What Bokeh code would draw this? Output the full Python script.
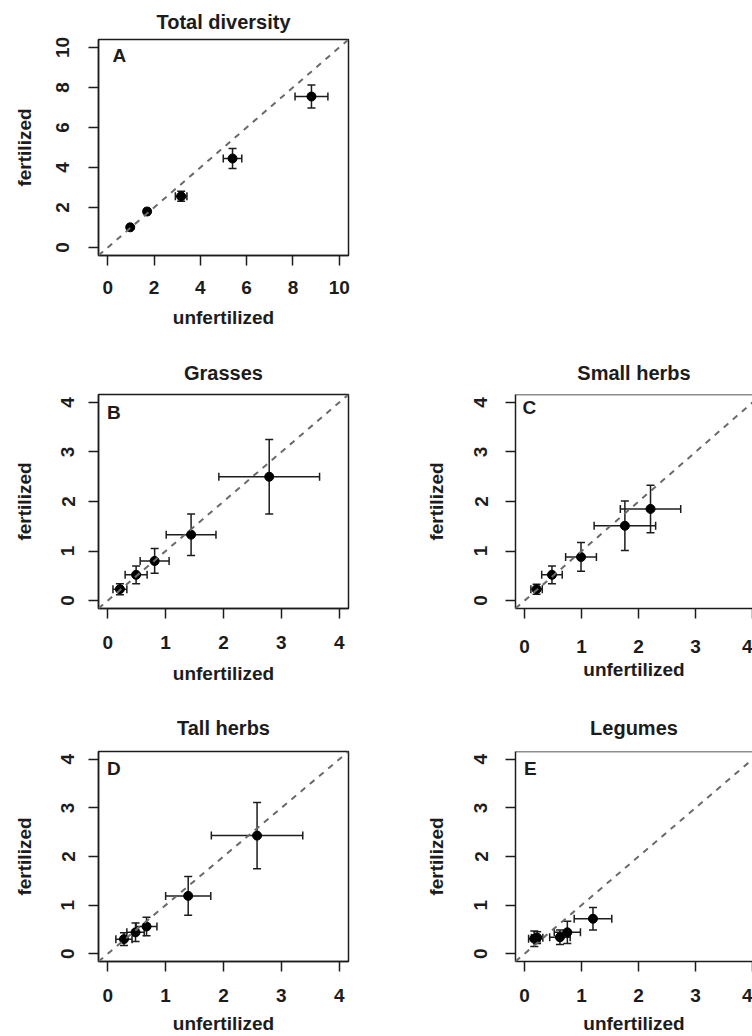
from bokeh.plotting import figure
from bokeh.models import Whisker, TeeHead, ColumnDataSource, Slope, Span, Label, FixedTicker
from bokeh.layouts import column, row
from bokeh.embed import file_html
from bokeh.resources import INLINE

# ---------------- data ----------------
titles = ["Total diversity", "Grasses", "Small herbs", "Tall herbs", "Legumes"]
letters = ["A", "B", "C", "D", "E"]
x_label = "unfertilized"
y_label = "fertilized"

ticks_total = [0, 2, 4, 6, 8, 10]
ticks_group = [0, 1, 2, 3, 4]

A_x = [0.97, 1.70, 3.17, 5.39, 8.80]
A_y = [1.01, 1.80, 2.56, 4.45, 7.55]
A_xe = [0.08, 0.10, 0.25, 0.40, 0.71]
A_ye = [0.08, 0.10, 0.25, 0.50, 0.58]

B_x = [0.21, 0.49, 0.81, 1.44, 2.79]
B_y = [0.23, 0.52, 0.80, 1.33, 2.50]
B_xe = [0.12, 0.19, 0.25, 0.43, 0.87]
B_ye = [0.11, 0.18, 0.25, 0.42, 0.75]

C_x = [0.21, 0.48, 0.99, 1.76, 2.21]
C_y = [0.23, 0.52, 0.88, 1.51, 1.85]
C_xe = [0.10, 0.18, 0.27, 0.54, 0.53]
C_ye = [0.10, 0.18, 0.29, 0.50, 0.48]

D_x = [0.28, 0.48, 0.67, 1.39, 2.58]
D_y = [0.30, 0.44, 0.56, 1.19, 2.43]
D_xe = [0.14, 0.15, 0.18, 0.39, 0.79]
D_ye = [0.13, 0.19, 0.19, 0.40, 0.68]

E_x = [0.17, 0.22, 0.62, 0.75, 1.20]
E_y = [0.31, 0.33, 0.34, 0.44, 0.72]
E_xe = [0.10, 0.10, 0.18, 0.23, 0.33]
E_ye = [0.16, 0.12, 0.15, 0.23, 0.23]

# ---------------- styling ----------------
FONT = "Liberation Sans"
INK = "#1c1c1c"
FS = "19px"
FS_TITLE = "20px"


def panel(title, letter, xs, ys, xe, ye, xr, yr, ticks, w, h, bl, br, bt, bb,
          title_standoff, lx_px, ly_px, full_box,
          xt_standoff, xl_standoff, yt_standoff, yl_standoff):
    p = figure(width=w, height=h, x_range=xr, y_range=yr,
               output_backend="svg", toolbar_location=None,
               min_border_left=bl, min_border_right=br,
               min_border_top=bt, min_border_bottom=bb,
               title=title, background_fill_color="white",
               border_fill_color="white")
    p.title.align = "center"
    p.title.text_font = FONT
    p.title.text_font_size = FS_TITLE
    p.title.text_font_style = "bold"
    p.title.text_color = INK
    p.title.standoff = title_standoff

    p.xgrid.visible = False
    p.ygrid.visible = False

    for ax in (p.xaxis[0], p.yaxis[0]):
        ax.ticker = FixedTicker(ticks=ticks, minor_ticks=[])
        ax.major_tick_in = 0
        ax.major_tick_out = 10
        ax.minor_tick_in = 0
        ax.minor_tick_out = 0
        ax.major_tick_line_color = INK
        ax.major_tick_line_width = 1.5
        ax.axis_line_color = INK
        ax.axis_line_width = 1.5
        ax.major_label_text_font = FONT
        ax.major_label_text_font_size = FS
        ax.major_label_text_font_style = "bold"
        ax.major_label_text_color = INK
        ax.axis_label_text_font = FONT
        ax.axis_label_text_font_size = FS
        ax.axis_label_text_font_style = "bold"
        ax.axis_label_text_color = INK

    p.xaxis[0].axis_label = x_label
    p.xaxis[0].major_label_standoff = xt_standoff
    p.xaxis[0].axis_label_standoff = xl_standoff
    p.yaxis[0].axis_label = y_label
    p.yaxis[0].major_label_orientation = "vertical"
    p.yaxis[0].major_label_standoff = yt_standoff
    p.yaxis[0].axis_label_standoff = yl_standoff

    if full_box:
        p.outline_line_color = INK
        p.outline_line_width = 1.5
        p.outline_line_alpha = 1.0
    else:
        p.outline_line_color = None
        p.add_layout(Span(location=yr[1], dimension="width",
                          line_color=INK, line_width=1.5))

    p.add_layout(Slope(gradient=1, y_intercept=0, line_color="#6a6a6a",
                       line_width=2, line_dash="6 6"))

    src = ColumnDataSource(dict(
        x=xs, y=ys,
        xlo=[a - e for a, e in zip(xs, xe)], xhi=[a + e for a, e in zip(xs, xe)],
        ylo=[a - e for a, e in zip(ys, ye)], yhi=[a + e for a, e in zip(ys, ye)],
    ))
    p.scatter("x", "y", source=src, size=9, fill_color="black",
              line_color="black")
    p.add_layout(Whisker(base="y", lower="xlo", upper="xhi", dimension="width",
                         source=src, line_color=INK, line_width=1.5,
                         upper_head=TeeHead(size=8, line_color=INK, line_width=1.5),
                         lower_head=TeeHead(size=8, line_color=INK, line_width=1.5)))
    p.add_layout(Whisker(base="x", lower="ylo", upper="yhi", dimension="height",
                         source=src, line_color=INK, line_width=1.5,
                         upper_head=TeeHead(size=8, line_color=INK, line_width=1.5),
                         lower_head=TeeHead(size=8, line_color=INK, line_width=1.5)))

    # panel letter placed a few pixels inside the top-left corner of the box
    fw = w - bl - br
    fh = h - bt - bb
    lx = xr[0] + lx_px * (xr[1] - xr[0]) / fw
    ly = yr[1] - ly_px * (yr[1] - yr[0]) / fh
    p.add_layout(Label(x=lx, y=ly, text=letter, text_font=FONT,
                       text_font_size=FS, text_font_style="bold",
                       text_color=INK, text_align="left",
                       text_baseline="alphabetic"))
    return p


pA = panel(titles[0], letters[0], A_x, A_y, A_xe, A_ye, (-0.4, 10.4), (-0.4, 10.4),
           ticks_total, 408, 345, 98, 60, 39, 90, 14, 14, 15.6, True,
           15, 10, 20, 18)
pB = panel(titles[1], letters[1], B_x, B_y, B_xe, B_ye, (-0.16, 4.16), (-0.16, 4.16),
           ticks_group, 408, 355, 98, 60, 49, 92, 21, 8.6, 17.6, True,
           17, 11, 14, 24)
pC = panel(titles[2], letters[2], C_x, C_y, C_xe, C_ye, (-0.16, 4.0), (-0.16, 4.16),
           ticks_group, 344, 355, 107, 0, 49, 92, 21, 7, 12.6, False,
           21, 3, 18, 25)
pD = panel(titles[3], letters[3], D_x, D_y, D_xe, D_ye, (-0.16, 4.16), (-0.16, 4.16),
           ticks_group, 408, 336, 98, 60, 51, 71, 25, 8.6, 17.6, True,
           17, 8, 14, 24)
pE = panel(titles[4], letters[4], E_x, E_y, E_xe, E_ye, (-0.16, 4.0), (-0.16, 4.16),
           ticks_group, 344, 336, 107, 0, 51, 71, 25, 8.6, 17.6, False,
           17, 8, 18, 25)

layout = column(pA, row(pB, pC), row(pD, pE))

open("out.html", "w").write(file_html(layout, INLINE))
